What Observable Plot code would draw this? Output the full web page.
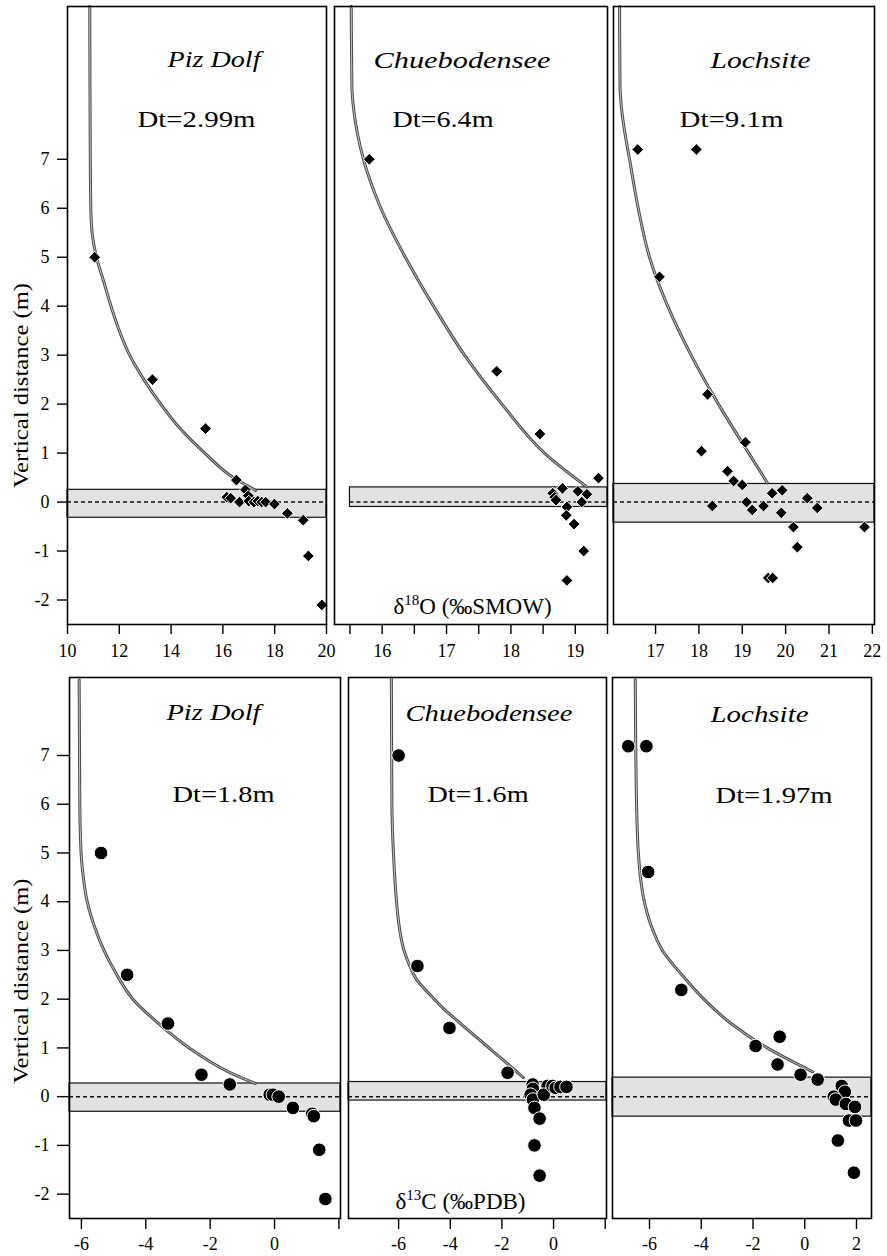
<!DOCTYPE html>
<html><head><meta charset="utf-8">
<script src="https://cdn.jsdelivr.net/npm/d3@7"></script>
<script src="https://cdn.jsdelivr.net/npm/@observablehq/plot@0.6"></script>
<style>
body{margin:0;background:#fff;}
#fig{position:relative;width:887px;height:1256px;background:#fff;overflow:hidden;}
#fig svg{position:absolute;}
</style></head><body><div id="fig"></div>
<script>
// ---------------- DATA ----------------
const sites = ["Piz Dolf", "Chuebodensee", "Lochsite"];
const o18Dt = ["Dt=2.99m", "Dt=6.4m", "Dt=9.1m"];
const c13Dt = ["Dt=1.8m", "Dt=1.6m", "Dt=1.97m"];
const o18Label = "δ18O (‰SMOW)";
const c13Label = "δ13C (‰PDB)";
const yLabel = "Vertical distance (m)";
const yTicks = [-2, -1, 0, 1, 2, 3, 4, 5, 6, 7];

// x tick values
const pizO18Ticks = [10, 12, 14, 16, 18, 20];
const chuO18Ticks = [15.5, 16, 16.5, 17, 17.5, 18, 18.5, 19, 19.5];
const locO18Ticks = [17, 18, 19, 20, 21, 22];
const c13Ticks = [-6, -4, -2, 0, 2];

// δ18O samples (x = δ18O ‰SMOW, y = vertical distance m)
const pizO18X = [11.05, 13.28, 15.33, 16.52, 16.87, 16.98, 16.15, 16.3, 16.64, 17.0, 17.2, 17.35, 17.5, 17.65, 17.99, 18.49, 19.1, 19.3, 19.82];
const pizO18Y = [5.0, 2.5, 1.5, 0.45, 0.25, 0.13, 0.1, 0.08, 0.0, 0.02, 0.0, 0.02, 0.0, 0.0, -0.04, -0.23, -0.37, -1.1, -2.1];
const chuO18X = [15.8, 17.78, 18.45, 19.36, 18.8, 18.65, 18.68, 18.7, 19.04, 19.18, 19.1, 18.87, 18.86, 18.98, 19.13, 18.87];
const chuO18Y = [7.0, 2.67, 1.39, 0.49, 0.28, 0.18, 0.1, 0.04, 0.22, 0.16, 0.0, -0.1, -0.27, -0.45, -1.0, -1.6];
const locO18X = [16.59, 17.94, 17.09, 18.2, 19.07, 18.06, 18.66, 18.8, 19.0, 18.31, 19.1, 19.23, 19.49, 19.69, 19.92, 19.9, 20.5, 20.73, 20.18, 20.27, 19.6, 19.7, 21.82];
const locO18Y = [7.2, 7.2, 4.6, 2.2, 1.22, 1.04, 0.63, 0.43, 0.35, -0.08, 0.0, -0.16, -0.08, 0.18, 0.24, -0.22, 0.08, -0.12, -0.51, -0.92, -1.55, -1.55, -0.51];

// δ18O model curves
const pizO18CurveX = [10.86, 10.88, 10.9, 10.95, 11.12, 11.4, 11.68, 12.0, 12.4, 12.95, 13.6, 14.35, 15.3, 16.4, 17.26];
const pizO18CurveY = [10.12, 7.0, 6.0, 5.5, 5.0, 4.5, 4.0, 3.5, 3.0, 2.5, 2.0, 1.5, 1.0, 0.5, 0.24];
const chuO18CurveX = [15.52, 15.53, 15.56, 15.62, 15.71, 15.83, 15.98, 16.36, 16.8, 17.28, 17.86, 18.52, 19.18];
const chuO18CurveY = [10.12, 8.5, 8.0, 7.5, 7.0, 6.5, 6.0, 5.0, 4.0, 3.0, 2.0, 1.0, 0.31];
const locO18CurveX = [16.17, 16.18, 16.22, 16.3, 16.4, 16.6, 16.86, 17.28, 17.82, 18.45, 19.15, 19.58];
const locO18CurveY = [10.12, 8.5, 8.0, 7.5, 7.0, 6.0, 5.0, 4.0, 3.0, 2.0, 1.0, 0.39];

// δ13C samples (x = δ13C ‰PDB, y = vertical distance m)
const pizC13X = [-5.39, -4.58, -3.31, -2.27, -1.39, -0.15, -0.05, 0.13, 0.57, 1.17, 1.22, 1.39, 1.58];
const pizC13Y = [5.0, 2.5, 1.5, 0.45, 0.25, 0.04, 0.04, 0.0, -0.23, -0.35, -0.4, -1.09, -2.1];
const chuC13X = [-6.0, -5.27, -4.03, -1.78, -0.81, -0.8, -0.89, -0.8, -0.74, -0.54, -0.74, -0.54, -0.23, -0.38, -0.04, 0.08, 0.27, 0.5];
const chuC13Y = [7.0, 2.68, 1.41, 0.49, 0.25, 0.16, 0.04, -0.06, -0.23, -0.45, -1.0, -1.62, 0.22, 0.04, 0.22, 0.18, 0.2, 0.2];
const locC13X = [-6.82, -6.12, -6.05, -4.77, -0.97, -1.9, -1.05, -0.16, 0.5, 1.43, 1.55, 1.12, 1.2, 1.59, 1.94, 1.71, 1.98, 1.28, 1.9];
const locC13Y = [7.19, 7.19, 4.61, 2.19, 1.23, 1.04, 0.66, 0.45, 0.35, 0.22, 0.1, 0.0, -0.06, -0.15, -0.21, -0.49, -0.49, -0.9, -1.56];

// δ13C model curves
const pizC13CurveX = [-6.07, -6.05, -6.01, -5.94, -5.82, -5.6, -5.3, -4.9, -4.4, -3.6, -2.65, -1.4, -0.6];
const pizC13CurveY = [8.55, 6.0, 5.0, 4.5, 4.0, 3.5, 3.0, 2.5, 2.0, 1.5, 1.0, 0.5, 0.27];
const chuC13CurveX = [-6.28, -6.26, -6.2, -6.08, -5.98, -5.79, -5.58, -5.3, -4.8, -4.25, -3.6, -2.94, -2.28, -1.62, -1.17];
const chuC13CurveY = [8.59, 6.0, 5.0, 4.0, 3.5, 3.0, 2.7, 2.4, 2.1, 1.8, 1.5, 1.2, 0.9, 0.6, 0.39];
const locC13CurveX = [-6.55, -6.5, -6.43, -6.35, -6.2, -5.93, -5.5, -4.75, -3.9, -2.85, -1.45, 0.31];
const locC13CurveY = [8.55, 6.0, 5.0, 4.5, 4.0, 3.5, 3.0, 2.5, 2.0, 1.5, 1.0, 0.51];

// gray bands (top / bottom, m); band start (x) where it does not fill the panel
const o18BandTop = [0.25, 0.30, 0.37];
const o18BandBottom = [-0.32, -0.10, -0.42];
const o18BandStart = [null, 15.5, null];
const c13BandTop = [0.27, 0.30, 0.39];
const c13BandBottom = [-0.31, -0.08, -0.41];
const c13BandStart = [null, null, null];

// ---------------- RENDER ----------------
const FONT = "'Liberation Serif', 'Times New Roman', Times, serif";
const pts = (xs, ys) => xs.map((x, i) => ({x, y: ys[i]}));
const fig = document.getElementById("fig");

function panel(c) {
  const x1 = c.bandStart ?? c.xDomain[0], x2 = c.xDomain[1];
  const marks = [
    Plot.rect([{x1, x2, y1: c.bandBottom, y2: c.bandTop}], {x1: "x1", x2: "x2", y1: "y1", y2: "y2", fill: "#e2e2e2", stroke: "#111", strokeWidth: 1.2}),
    Plot.ruleY([{y: 0, x1, x2}], {y: "y", x1: "x1", x2: "x2", stroke: "#111", strokeWidth: 1.5, strokeDasharray: "4,3"}),
    Plot.line(c.curve, {x: "x", y: "y", curve: "monotone-y", stroke: "#4a4a4a", strokeWidth: 3}),
    Plot.line(c.curve, {x: "x", y: "y", curve: "monotone-y", stroke: "#c4c4c4", strokeWidth: 1}),
    Plot.dot(c.points, {x: "x", y: "y", symbol: c.symbol, r: c.r, fill: "black", stroke: "white", strokeWidth: 1}),
    Plot.frame({stroke: "black", strokeWidth: 1.6}),
    Plot.text([c.site], {frameAnchor: "top-left", textAnchor: "start", lineAnchor: "middle", dx: c.siteDx, dy: c.siteDy, fontSize: 24, fontStyle: "italic", fill: "black"}),
    Plot.text([c.dt], {frameAnchor: "top-left", textAnchor: "start", lineAnchor: "middle", dx: c.dtDx, dy: c.dtDy, fontSize: 24, fill: "black"})
  ];
  if (c.xLabel) marks.push(Plot.text([c.xLabel], {frameAnchor: "bottom-left", textAnchor: "start", lineAnchor: "middle", dx: c.xLabelDx, dy: c.xLabelDy, fontSize: 23, fill: "black"}));
  if (c.yLab) marks.push(Plot.text([yLabel], {frameAnchor: "left", textAnchor: "middle", lineAnchor: "middle", rotate: -90, dx: c.yLabDx, dy: c.yLabDy, fontSize: 22, fill: "black"}));
  const svg = Plot.plot({
    width: c.width, height: c.height,
    marginTop: c.mt, marginBottom: c.mb, marginLeft: c.ml, marginRight: c.mr,
    style: {fontSize: "18px", fontFamily: FONT, background: "transparent", overflow: "visible", color: "black"},
    x: {domain: c.xDomain, ticks: c.xTicks, tickFormat: c.xFmt, tickSize: c.xTickSize, tickPadding: c.xTickPad, label: null},
    y: c.yAxis ? {domain: c.yDomain, ticks: yTicks, tickFormat: d => String(d), tickSize: c.yTickSize, tickPadding: 8, label: null}
               : {domain: c.yDomain, axis: null},
    marks
  });
  svg.style.position = "absolute";
  svg.style.left = c.left + "px";
  svg.style.top = c.top + "px";
  svg.style.overflow = "visible";
  svg.style.maxWidth = "none";
  fig.appendChild(svg);
  // stretch texts to the widths they occupy in the original
  svg.querySelectorAll("text").forEach(t => {
    const s = t.textContent;
    if (s === c.site) { t.setAttribute("textLength", c.siteW); t.setAttribute("lengthAdjust", "spacingAndGlyphs"); }
    if (s === c.dt) { t.setAttribute("textLength", c.dtW); t.setAttribute("lengthAdjust", "spacingAndGlyphs"); }
    if (s === yLabel) { t.setAttribute("textLength", 205); t.setAttribute("lengthAdjust", "spacingAndGlyphs"); }
    if (c.xLabel && s === c.xLabel) {
      const m = s.match(/^(δ)(\d+)(.*)$/);
      t.textContent = "";
      const a = document.createElementNS("http://www.w3.org/2000/svg", "tspan"); a.textContent = m[1];
      const b = document.createElementNS("http://www.w3.org/2000/svg", "tspan"); b.textContent = m[2];
      b.setAttribute("font-size", "15"); b.setAttribute("dy", "-9");
      const d = document.createElementNS("http://www.w3.org/2000/svg", "tspan"); d.textContent = m[3];
      d.setAttribute("dy", "9");
      t.appendChild(a); t.appendChild(b); t.appendChild(d);
    }
  });
  svg.querySelectorAll('[aria-label$="tick"] path, [aria-label$="tick"] line').forEach(p => p.setAttribute("stroke-width", "1.4"));
}

const topY = [-2.5, 10.12];
const botY = [-2.5, 8.6];
const intFmt = d => Number.isInteger(d) ? String(d) : "";

// top row (δ18O)
panel({left: 0, top: 0, width: 330, height: 670, mt: 6, mb: 46, ml: 67, mr: 4,
  xDomain: [10, 20], xTicks: pizO18Ticks, xFmt: d => String(d), xTickSize: 10, xTickPad: 10,
  yDomain: topY, yAxis: true, yTickSize: 10, yLab: true, yLabDx: -47, yLabDy: 70,
  points: pts(pizO18X, pizO18Y), curve: pts(pizO18CurveX, pizO18CurveY), symbol: "diamond2", r: 5.3,
  bandTop: o18BandTop[0], bandBottom: o18BandBottom[0], bandStart: o18BandStart[0],
  site: sites[0], siteDx: 100, siteDy: 53, siteW: 93, dt: o18Dt[0], dtDx: 70, dtDy: 113, dtW: 118});
panel({left: 330, top: 0, width: 280, height: 670, mt: 6, mb: 46, ml: 4, mr: 3,
  xDomain: [15.26, 19.5], xTicks: chuO18Ticks, xFmt: intFmt, xTickSize: 10, xTickPad: 10,
  yDomain: topY, yAxis: false,
  points: pts(chuO18X, chuO18Y), curve: pts(chuO18CurveX, chuO18CurveY), symbol: "diamond2", r: 5.3,
  bandTop: o18BandTop[1], bandBottom: o18BandBottom[1], bandStart: o18BandStart[1],
  site: sites[1], siteDx: 39, siteDy: 54, siteW: 177, dt: o18Dt[1], dtDx: 58, dtDy: 113, dtW: 101,
  xLabel: o18Label, xLabelDx: 59, xLabelDy: -18});
panel({left: 610, top: 0, width: 277, height: 670, mt: 6, mb: 46, ml: 3, mr: 13,
  xDomain: [16.03, 22.05], xTicks: locO18Ticks, xFmt: d => String(d), xTickSize: 10, xTickPad: 10,
  yDomain: topY, yAxis: false,
  points: pts(locO18X, locO18Y), curve: pts(locO18CurveX, locO18CurveY), symbol: "diamond2", r: 5.3,
  bandTop: o18BandTop[2], bandBottom: o18BandBottom[2], bandStart: o18BandStart[2],
  site: sites[2], siteDx: 97, siteDy: 54, siteW: 100, dt: o18Dt[2], dtDx: 66, dtDy: 113, dtW: 104});

// bottom row (δ13C)
panel({left: 0, top: 670, width: 343, height: 586, mt: 7, mb: 38, ml: 69, mr: 3,
  xDomain: [-6.37, 2.05], xTicks: c13Ticks, xFmt: d => d === 2 ? "" : String(d), xTickSize: 11, xTickPad: 8,
  yDomain: botY, yAxis: true, yTickSize: 12, yLab: true, yLabDx: -49, yLabDy: 33,
  points: pts(pizC13X, pizC13Y), curve: pts(pizC13CurveX, pizC13CurveY), symbol: "circle", r: 6.8,
  bandTop: c13BandTop[0], bandBottom: c13BandBottom[0], bandStart: c13BandStart[0],
  site: sites[0], siteDx: 97, siteDy: 35, siteW: 94, dt: c13Dt[0], dtDx: 103, dtDy: 117, dtW: 102});
panel({left: 343, top: 670, width: 266, height: 586, mt: 7, mb: 38, ml: 5, mr: 3,
  xDomain: [-7.94, 2.05], xTicks: c13Ticks, xFmt: d => d === 2 ? "" : String(d), xTickSize: 11, xTickPad: 8,
  yDomain: botY, yAxis: false,
  points: pts(chuC13X, chuC13Y), curve: pts(chuC13CurveX, chuC13CurveY), symbol: "circle", r: 6.8,
  bandTop: c13BandTop[1], bandBottom: c13BandBottom[1], bandStart: c13BandStart[1],
  site: sites[1], siteDx: 57, siteDy: 36, siteW: 167, dt: c13Dt[1], dtDx: 79, dtDy: 117, dtW: 101,
  xLabel: c13Label, xLabelDx: 47, xLabelDy: -17});
panel({left: 609, top: 670, width: 278, height: 586, mt: 7, mb: 38, ml: 3, mr: 16,
  xDomain: [-7.43, 2.58], xTicks: c13Ticks, xFmt: d => String(d), xTickSize: 11, xTickPad: 8,
  yDomain: botY, yAxis: false,
  points: pts(locC13X, locC13Y), curve: pts(locC13CurveX, locC13CurveY), symbol: "circle", r: 6.8,
  bandTop: c13BandTop[2], bandBottom: c13BandBottom[2], bandStart: c13BandStart[2],
  site: sites[2], siteDx: 98, siteDy: 37, siteW: 98, dt: c13Dt[2], dtDx: 103, dtDy: 118, dtW: 117});
</script></body></html>
